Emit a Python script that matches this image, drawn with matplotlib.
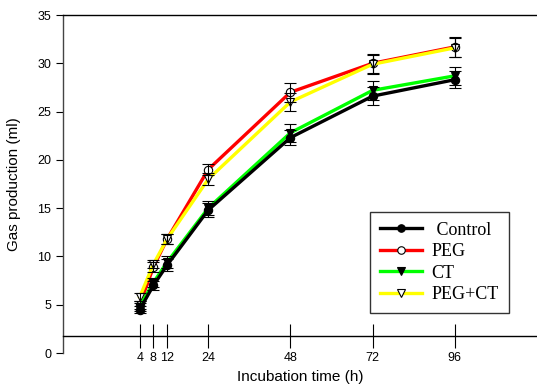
import numpy as np
import matplotlib
matplotlib.use("Agg")
import matplotlib.pyplot as plt

# === Data ===
hours = [4, 8, 12, 24, 48, 72, 96]
series = ["Control", "PEG", "CT", "PEG+CT"]

control = [4.5, 7.0, 9.1, 14.8, 22.3, 26.6, 28.3]
peg = [5.0, 8.9, 11.8, 19.0, 27.0, 30.0, 31.7]
ct = [4.8, 7.3, 9.4, 15.0, 22.8, 27.2, 28.7]
peg_ct = [5.8, 9.2, 11.8, 18.0, 26.0, 29.9, 31.6]

control_err = [0.4, 0.5, 0.6, 0.7, 0.8, 0.9, 0.9]
peg_err = [0.4, 0.5, 0.5, 0.6, 1.0, 1.0, 1.0]
ct_err = [0.4, 0.5, 0.6, 0.7, 0.9, 1.0, 0.9]
peg_ct_err = [0.4, 0.4, 0.5, 0.6, 0.9, 1.0, 1.0]

# === Figur ===
plt.rcParams["font.family"] = ["Liberation Sans", "DejaVu Sans"]
fig = plt.figure(figsize=(5.37, 3.89), dpi=100)
ax = fig.add_axes([63 / 537, 36 / 389, 474 / 537, 338 / 389])

styles = [
    # (values, err, colour, marker, face, z)
    (peg, peg_err, "#ff0000", "o", "white", 2),
    (peg_ct, peg_ct_err, "#ffff00", "v", "white", 3),
    (ct, ct_err, "#00ff00", "v", "black", 4),
    (control, control_err, "black", "o", "black", 5),
]
labels = ["PEG", "PEG+CT", "CT", "Control"]

handles = {}
for (vals, err, col, mk, face, z), lab in zip(styles, labels):
    ax.errorbar(hours, vals, yerr=err, fmt="none", ecolor="black",
                elinewidth=0.8, capsize=4, capthick=0.8, zorder=z + 5)
    h, = ax.plot(hours, vals, color=col, lw=2.4, marker=mk, markersize=6,
                 markerfacecolor=face, markeredgecolor="black",
                 markeredgewidth=0.8, zorder=z, label=lab)
    handles[lab] = h

ax.set_xlim(-18.4, 120)
ax.set_ylim(0, 35)

ax.spines["right"].set_visible(False)
ax.spines["bottom"].set_position(("data", 1.8))
for s in ["left", "top", "bottom"]:
    ax.spines[s].set_linewidth(1.0)
ax.spines["left"].set_color("#444444")

ax.set_xticks(hours)
ax.set_xticklabels([str(h) for h in hours])
ax.set_yticks(np.arange(0, 36, 5))
ax.tick_params(axis="x", direction="inout", length=17, width=0.8,
               labelsize=9, pad=3)
ax.tick_params(axis="y", direction="out", length=5, width=0.8, labelsize=9)

ax.set_xlabel("Incubation time (h)", fontsize=11)
ax.set_ylabel("Gas production (ml)", fontsize=11)
ax.xaxis.set_label_coords(0.5, -0.05)
ax.yaxis.set_label_coords(-0.088, 0.5)

leg = ax.legend([handles[s] for s in series], [" Control", "PEG", "CT", "PEG+CT"],
                loc="lower left", bbox_to_anchor=(0.648, 0.118), borderaxespad=0,
                prop={"family": "Liberation Serif", "size": 13},
                frameon=True, fancybox=False, edgecolor="black",
                handlelength=2.3, handletextpad=0.55, borderpad=0.55,
                labelspacing=0.25, markerscale=0.9)
leg.get_frame().set_linewidth(1.0)

fig.savefig("out.png", dpi=100)
